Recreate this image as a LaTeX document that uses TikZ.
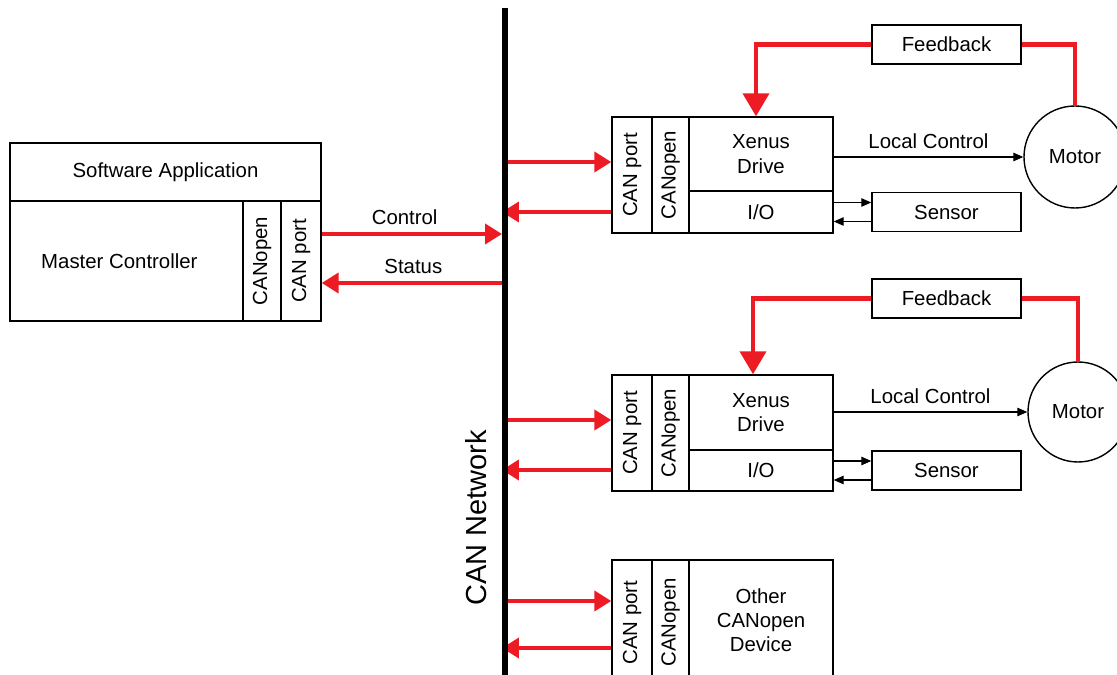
\documentclass[tikz,border=0pt]{standalone}
\usepackage{fontspec}
\setmainfont{Liberation Sans}
\usepackage{graphicx}
\usetikzlibrary{arrows.meta}
\definecolor{canred}{RGB}{237,28,36}
\tikzset{
  cell/.style 2 args={draw, line width=0.8pt, inner sep=1pt, align=center,
    minimum width=#1*0.02cm, minimum height=#2*0.02cm},
  motor/.style={draw, line width=0.8pt, circle, inner sep=0pt, minimum size=#1*0.02cm},
  redline/.style={draw=canred, line width=2.3pt},
  redarr/.style={redline, -{Triangle[length=0.34cm, width=0.4cm]}},
  fbarr/.style={redline, -{Triangle[length=0.46cm, width=0.52cm]}},
  blkarr/.style={draw, line width=0.6pt, -{Triangle[length=0.2cm, width=0.17cm]}}
}
\begin{document}
\begin{tikzpicture}[x=0.02cm, y=-0.02cm, font=\fontsize{11.6}{13.8}\selectfont]
  \useasboundingbox (0,0) rectangle (1117,675);
  % master side
  \node[cell={311}{58}] (app) at (165.5,172) {\raisebox{-0.2em}{Software Application}};
  \node[cell={233}{120}] (mc) at (126.5,261) {Master Controller\hspace*{0.7em}};
  \node[cell={38}{120}] (mopen) at (262,261) {\rotatebox{90}{CANopen}};
  \node[cell={40}{120}] (mport) at (301,261) {\rotatebox{90}{CAN port}};
  \coordinate (ctl) at (502,234);
  \coordinate (sts) at (505,283);
  \draw[redarr] (ctl -| mport.east) -- (ctl) node[pos=0.46, above=1pt] {Control};
  \draw[redarr] (sts) -- (sts -| mport.east) node[midway, above=1pt] {Status};
  % first drive
  \node[cell={40}{116}] (port1) at (632,175) {\rotatebox{90}{CAN port}};
  \node[cell={37}{116}] (open1) at (670.5,175) {\rotatebox{90}{CANopen}};
  \node[cell={144}{74}] (xd1) at (761,154) {Xenus\\Drive};
  \node[cell={144}{42}] (io1) at (761,212) {I/O};
  \node[cell={149}{39}] (fb1) at (946.5,44.5) {Feedback};
  \node[cell={149}{39}] (sen1) at (946.5,212) {Sensor};
  \node[motor=102] (mot1) at (1075,157) {Motor};
  \coordinate (in1) at (503,162);
  \coordinate (out1) at (502,212);
  \draw[redarr] (in1) -- (in1 -| port1.west);
  \draw[redarr] (out1 -| port1.west) -- (out1);
  \draw[fbarr] (fb1.west) -| ([xshift=-0.1cm]xd1.north);
  \draw[redline] (fb1.east) -| (mot1.north);
  \draw[blkarr] (mot1.west -| xd1.east) -- (mot1.west) node[midway, above=1pt] {Local Control};
  \draw[blkarr] ([yshift=0.19cm]io1.east) -- ([yshift=0.19cm]sen1.west);
  \draw[blkarr] ([yshift=-0.19cm]sen1.west) -- ([yshift=-0.19cm]io1.east);
  % second drive
  \node[cell={40}{116}] (port2) at (632,433) {\rotatebox{90}{CAN port}};
  \node[cell={37}{116}] (open2) at (670.5,433) {\rotatebox{90}{CANopen}};
  \node[cell={144}{75}] (xd2) at (761,412.5) {Xenus\\Drive};
  \node[cell={144}{41}] (io2) at (761,470.5) {I/O};
  \node[cell={149}{39}] (fb2) at (946.5,298.5) {Feedback};
  \node[cell={149}{39}] (sen2) at (946.5,470.5) {Sensor};
  \node[motor=100] (mot2) at (1078,412) {Motor};
  \coordinate (in2) at (503,420);
  \coordinate (out2) at (502,470);
  \draw[redarr] (in2) -- (in2 -| port2.west);
  \draw[redarr] (out2 -| port2.west) -- (out2);
  \draw[fbarr] (fb2.west) -| ([xshift=-0.16cm]xd2.north);
  \draw[redline] (fb2.east) -| (mot2.north);
  \draw[blkarr] (mot2.west -| xd2.east) -- (mot2.west) node[midway, above=1pt] {Local Control};
  \draw[blkarr] ([yshift=0.19cm]io2.east) -- ([yshift=0.19cm]sen2.west);
  \draw[blkarr] ([yshift=-0.19cm]sen2.west) -- ([yshift=-0.19cm]io2.east);
  % other device
  \node[cell={40}{125}] (port3) at (632,622.5) {\rotatebox{90}{CAN port}};
  \node[cell={37}{125}] (open3) at (670.5,622.5) {\rotatebox{90}{CANopen}};
  \node[cell={144}{125}] (oth3) at (761,622.5) {\raisebox{0.6em}{\begin{tabular}{@{}c@{}}Other\\CANopen\\Device\end{tabular}}};
  \coordinate (in3) at (503,601);
  \coordinate (out3) at (502,648);
  \draw[redarr] (in3) -- (in3 -| port3.west);
  \draw[redarr] (out3 -| port3.west) -- (out3);
  % bus
  \coordinate (bustop) at (505,8);
  \coordinate (busend) at (505,690);
  \draw[line width=3.4pt] (bustop) -- (busend);
  \node[rotate=90, font=\fontsize{16.5}{20}\selectfont] (net) at (476,518) {CAN Network};
\end{tikzpicture}
\end{document}
